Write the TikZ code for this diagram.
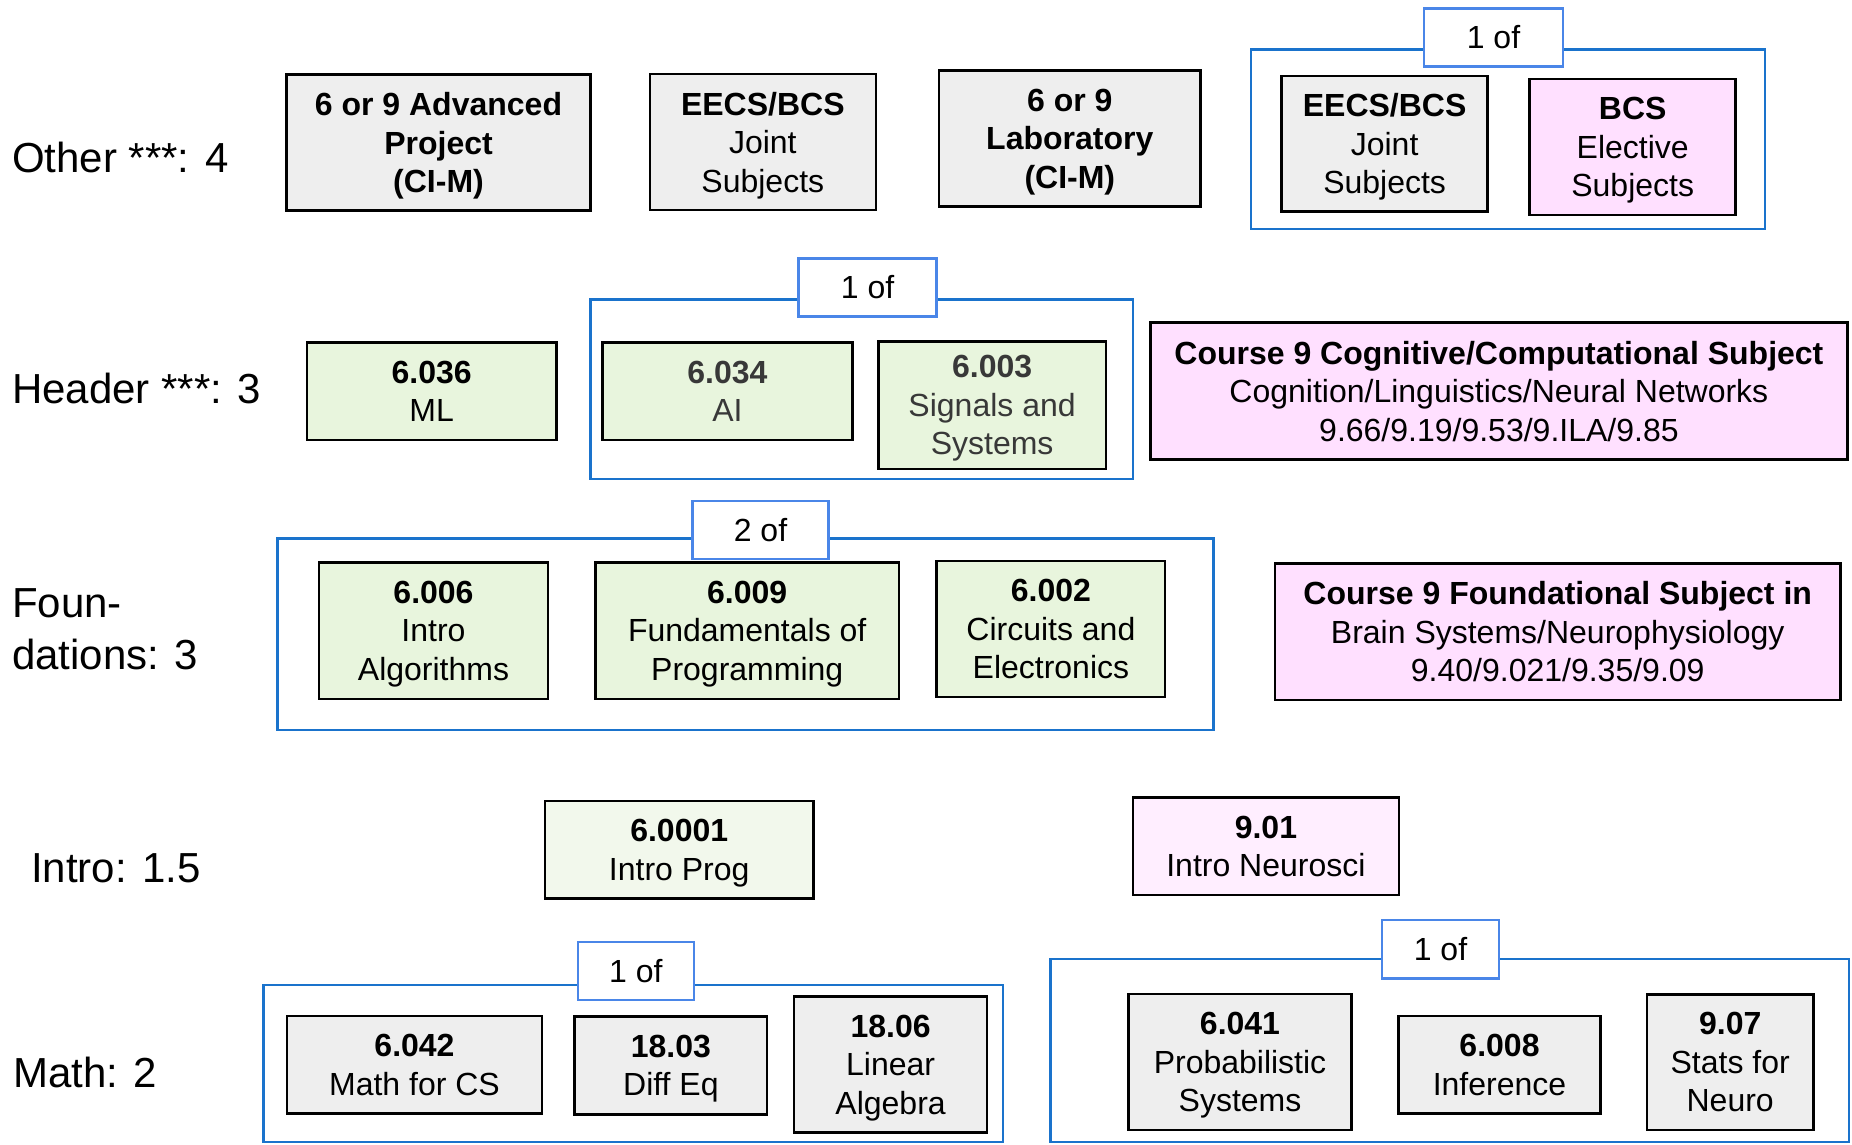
\documentclass[tikz,border=0pt]{standalone}
\usepackage{fontspec}
\setmainfont{Liberation Sans}
\definecolor{grayfill}{HTML}{EEEEEE}
\definecolor{greenfill}{HTML}{E8F5DD}
\definecolor{palegreen}{HTML}{F2F8EC}
\definecolor{pinkfill}{HTML}{FFE0FF}
\definecolor{palepink}{HTML}{FFEEFF}
\definecolor{grpblue}{HTML}{1A73CC}
\definecolor{lblblue}{HTML}{4A86E8}
\definecolor{dimtext}{HTML}{383838}
\tikzset{
  course/.style={draw=black, line width=2.5pt, rectangle, align=center, inner sep=0pt,
    text depth=0pt, font=\fontsize{32}{38.5}\selectfont},
  graybox/.style={course, fill=grayfill},
  greenbox/.style={course, fill=greenfill},
  pinkbox/.style={course, fill=pinkfill},
  grp/.style={draw=grpblue, line width=2.5pt, rectangle, inner sep=0pt},
  oflabel/.style={draw=lblblue, fill=white, line width=2.5pt, rectangle, inner sep=0pt,
    font=\fontsize{32}{38.5}\selectfont},
  rowlabel/.style={anchor=west, inner sep=0pt, align=left,
    font=\fontsize{42}{52}\selectfont}
}
\begin{document}
\begin{tikzpicture}[x=1pt, y=-1pt]
\useasboundingbox (0,0) rectangle (1852,1144);
% row labels
\node[rowlabel] (lother) at (12,157) {Other ***: 4};
\node[rowlabel] (lheader) at (12,388) {Header ***: 3};
\node[rowlabel] (lfound) at (12,629) {Foun-\\dations: 3};
\node[rowlabel] (lintro) at (31,868) {Intro: 1.5};
\node[rowlabel] (lmath) at (13,1072) {Math: 2};

% group boxes
\node[grp, minimum width=514, minimum height=179.7] (g1) at (1508,139.2) {};
\node[grp, minimum width=542.1, minimum height=179.7] (g2) at (861.7,389.2) {};
\node[grp, minimum width=936, minimum height=191.7] (g3) at (745.6,634.2) {};
\node[grp, minimum width=739.4, minimum height=157] (g4) at (633.1,1063.5) {};
\node[grp, minimum width=798.5, minimum height=183.3] (g5) at (1449.8,1050.4) {};

% group labels
\node[oflabel, minimum width=139, minimum height=58.4] (of1) at (1493.5,37.5) {1 of};
\node[oflabel, minimum width=138, minimum height=58.4] (of2) at (867.6,287.5) {1 of};
\node[oflabel, minimum width=136.4, minimum height=58] (of3) at (760.5,530) {2 of};
\node[oflabel, minimum width=116.1, minimum height=58.3] (of4) at (635.9,970.9) {1 of};
\node[oflabel, minimum width=117, minimum height=58.3] (of5) at (1440.5,949.2) {1 of};

% row 1: Other
\node[graybox, minimum width=304, minimum height=136] (adv) at (438.5,142.7)
  {\bfseries 6 or 9 Advanced\\\bfseries Project\\\bfseries (CI-M)};
\node[graybox, minimum width=226, minimum height=136] (joint1) at (762.8,142)
  {\bfseries EECS/BCS\\Joint\\Subjects};
\node[graybox, minimum width=261.6, minimum height=136] (lab) at (1069.8,138.7)
  {\bfseries 6 or 9\\\bfseries Laboratory\\\bfseries (CI-M)};
\node[graybox, minimum width=206, minimum height=135.7] (joint2) at (1384.6,143.8)
  {\bfseries EECS/BCS\\Joint\\Subjects};
\node[pinkbox, minimum width=206, minimum height=136] (bcs) at (1632.7,147)
  {\bfseries BCS\\Elective\\Subjects};

% row 2: Header
\node[greenbox, minimum width=249.4, minimum height=97.3] (ml) at (431.7,391.3)
  {\bfseries 6.036\\ML};
\node[greenbox, text=dimtext, minimum width=249.8, minimum height=97.3] (ai) at (727.4,391.3)
  {\bfseries 6.034\\AI};
\node[greenbox, text=dimtext, minimum width=227.7, minimum height=127.3] (sig) at (992.1,405.3)
  {\bfseries 6.003\\Signals and\\Systems};
\node[pinkbox, minimum width=697, minimum height=136.6] (cog) at (1498.9,391)
  {\bfseries Course 9 Cognitive/Computational Subject\\Cognition/Linguistics/Neural Networks\\9.66/9.19/9.53/9.ILA/9.85};

% row 3: Foundations
\node[greenbox, minimum width=229, minimum height=136.7] (alg) at (433.5,630.7)
  {\bfseries 6.006\\Intro\\Algorithms};
\node[greenbox, minimum width=303.6, minimum height=136.7] (prog) at (747.2,630.7)
  {\bfseries 6.009\\Fundamentals of\\Programming};
\node[greenbox, minimum width=228.6, minimum height=136.3] (circ) at (1050.9,628.9)
  {\bfseries 6.002\\Circuits and\\Electronics};
\node[pinkbox, minimum width=565.3, minimum height=136.7] (found) at (1557.7,631.7)
  {\bfseries Course 9 Foundational Subject in\\Brain Systems/Neurophysiology\\9.40/9.021/9.35/9.09};

% row 4: Intro
\node[course, fill=palegreen, minimum width=268.3, minimum height=97.3] (intro) at (679.2,849.7)
  {\bfseries 6.0001\\Intro Prog};
\node[course, fill=palepink, minimum width=266.3, minimum height=97.7] (neuro) at (1265.9,846.2)
  {\bfseries 9.01\\Intro Neurosci};

% row 5: Math
\node[graybox, minimum width=255, minimum height=97.3] (mcs) at (414.5,1064.7)
  {\bfseries 6.042\\Math for CS};
\node[graybox, minimum width=192.6, minimum height=97.6] (deq) at (670.9,1065.5)
  {\bfseries 18.03\\Diff Eq};
\node[graybox, minimum width=193.2, minimum height=135.6] (linalg) at (890.6,1064.5)
  {\bfseries 18.06\\Linear\\Algebra};
\node[graybox, minimum width=223.3, minimum height=136] (prob) at (1240,1062)
  {\bfseries 6.041\\Probabilistic\\Systems};
\node[graybox, minimum width=202.1, minimum height=97.3] (inf) at (1499.5,1064.7)
  {\bfseries 6.008\\Inference};
\node[graybox, minimum width=166.9, minimum height=135.7] (stats) at (1730.2,1062.2)
  {\bfseries 9.07\\Stats for\\Neuro};
\end{tikzpicture}
\end{document}
